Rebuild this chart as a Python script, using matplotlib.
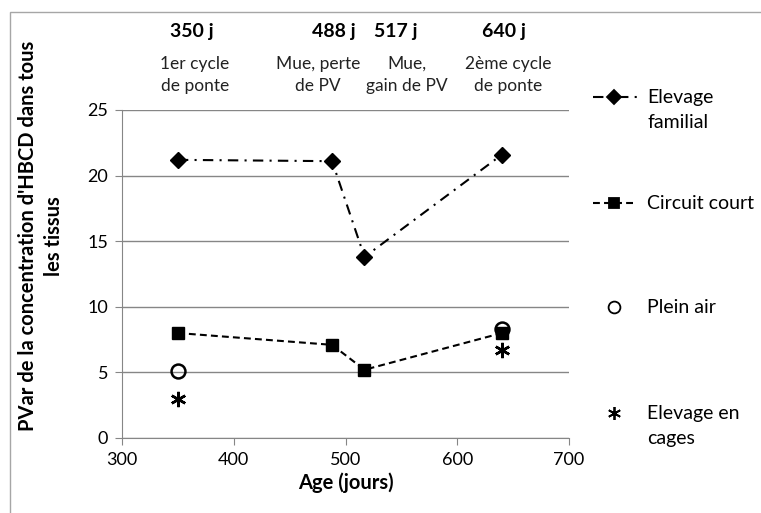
import matplotlib
matplotlib.use('Agg')
import matplotlib.pyplot as plt
from matplotlib.lines import Line2D
from matplotlib.patches import Rectangle

plt.rcParams['font.family'] = ['Lato', 'DejaVu Sans']

# data
age_jours = [350, 488, 517, 640]
elevage_familial = [21.2, 21.1, 13.8, 21.6]
circuit_court = [8.0, 7.1, 5.2, 8.0]
age_plein_air = [350, 640]
plein_air = [5.1, 8.3]
age_cages = [350, 640]
elevage_cages = [3.0, 6.7]

jours_labels = ['350 j', '488 j', '517 j', '640 j']
phase_labels = ['1er cycle\nde ponte', 'Mue, perte\nde PV', 'Mue,\ngain de PV', '2ème cycle\nde ponte']
legend_labels = ['Elevage\nfamilial', 'Circuit court', 'Plein air', 'Elevage en\ncages']

W, H = 761, 513
fig = plt.figure(figsize=(W / 100, H / 100), dpi=100)
ax = fig.add_axes([122 / W, 1 - 438 / H, (569 - 122) / W, (438 - 110) / H])

grey = '#868686'

# series
l1, = ax.plot(age_jours, elevage_familial, color='black', lw=1.5, marker='D', ms=8,
              dashes=(5, 3, 1, 3))
l2, = ax.plot(age_jours, circuit_court, color='black', lw=1.5, marker='s', ms=9,
              dashes=(3.3, 2))
l3, = ax.plot(age_plein_air, plein_air, ls='none', marker='o', ms=10, mfc='none',
              mec='black', mew=1.8)
l4, = ax.plot(age_cages, elevage_cages, ls='none', marker=(6, 2, 0), ms=11,
              mec='black', mew=1.8)

ax.set_xlim(300, 700)
ax.set_ylim(0, 25)
ax.set_xticks([300, 400, 500, 600, 700])
ax.set_yticks([0, 5, 10, 15, 20, 25])
ax.yaxis.grid(True, color=grey, lw=1)
ax.set_axisbelow(True)
for s in ['top', 'right']:
    ax.spines[s].set_visible(False)
for s in ['left', 'bottom']:
    ax.spines[s].set_color(grey)
ax.tick_params(direction='out', length=5, color=grey, labelsize=13, pad=5)
ax.set_xlabel('Age (jours)', fontsize=14.5, fontweight='bold', labelpad=3)

fig.text(41 / W, 1 - 236 / H, "PVar de la concentration d'HBCD dans tous\nles tissus",
         rotation=90, ha='center', va='center', fontsize=14.5, fontweight='bold',
         multialignment='center', linespacing=1.35)

# annotations above the plot
jours_x = [192, 334, 396, 504]
phase_x = [195, 318, 407, 508]
for lab, x in zip(jours_labels, jours_x):
    fig.text(x / W, 1 - 32 / H, lab, ha='center', va='center', fontsize=14, fontweight='bold')
for lab, x in zip(phase_labels, phase_x):
    fig.text(x / W, 1 - 75 / H, lab, ha='center', va='center', fontsize=12.5,
             linespacing=1.5, color='#222222')

# legend, drawn by hand to match the layout
handles = [l1, l2, l3, l4]
leg_y = [97, 203, 307, 413]
for h, lab, y in zip(handles, legend_labels, leg_y):
    yf = 1 - y / H
    if h.get_linestyle() != 'None':
        seg = Line2D([593 / W, 637 / W], [yf, yf], transform=fig.transFigure,
                     color='black', lw=1.5,
                     dashes=tuple(d / 1.5 for d in h._dash_pattern[1]))
        fig.add_artist(seg)
    mk = Line2D([614 / W], [yf], transform=fig.transFigure, ls='none',
                marker=h.get_marker(), ms=h.get_markersize() * 0.85,
                mfc=h.get_markerfacecolor(), mec='black', mew=1.3)
    fig.add_artist(mk)
    fig.text(647 / W, yf + 8 / H, lab, ha='left', va='top', fontsize=14,
             linespacing=1.55)

fig.add_artist(Rectangle((10 / W, -0.1), 1.2, 1 - 12 / H + 0.1, transform=fig.transFigure,
                         fill=False, ec='#a6a6a6', lw=1))

fig.savefig('out.png', dpi=100)
